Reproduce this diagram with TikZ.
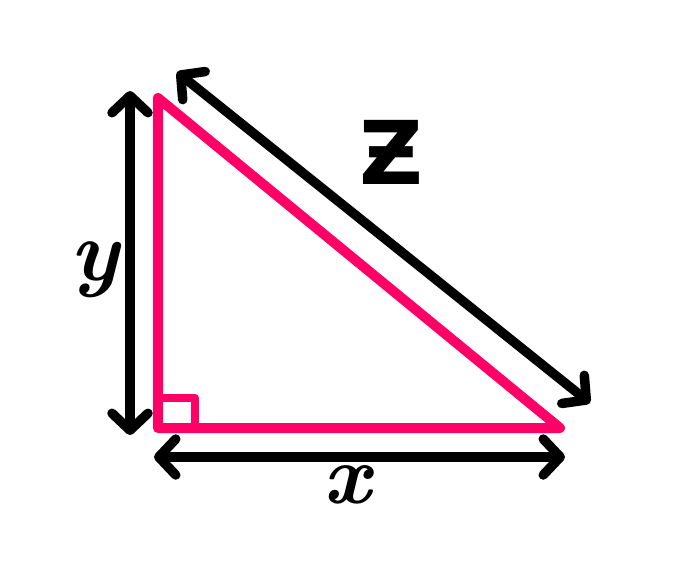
\documentclass[tikz,border=0pt]{standalone}
\usepackage{fontspec}
\newfontfamily\djv{DejaVu Sans}
\usetikzlibrary{arrows.meta}
\definecolor{tripink}{HTML}{FF0066}
\tikzset{
  measure/.style={line width=9.5pt, line cap=round, {Straight Barb[round,length=17pt,width=36pt,line width=9.5pt]}-{Straight Barb[round,length=17pt,width=36pt,line width=9.5pt]}},
  side/.style={draw=tripink, line width=10pt, line join=round, line cap=round},
  lbl/.style={inner sep=0pt, text=black}
}
\begin{document}
\begin{tikzpicture}[x=1pt,y=-1pt]
\useasboundingbox (0,0) rectangle (700,574);
% triangle
\coordinate (A) at (158,98);
\coordinate (B) at (158,428);
\coordinate (C) at (560,428);
\draw[side] (A) -- (B) -- (C) -- cycle;
\coordinate (Q1) at (158,398);
\coordinate (Q2) at (195,398);
\coordinate (Q3) at (195,428);
\draw[side, line width=8pt] (Q1) -- (Q2) -- (Q3);
% arrows
\coordinate (v1) at (130,91);
\coordinate (v2) at (130,435);
\draw[measure] (v1) -- (v2);
\coordinate (h1) at (154,457);
\coordinate (h2) at (565,457);
\draw[measure] (h1) -- (h2);
\coordinate (d1) at (177,72);
\coordinate (d2) at (590,403);
\draw[measure] (d1) -- (d2);
% labels
\node[lbl, font=\djv\bfseries\fontsize{88}{88}\selectfont] (lz) at (391,152) {Ƶ};
\node[lbl, font=\bfseries\itshape\fontsize{86}{86}\selectfont] (ly) at (95,270) {y};
\node[lbl, font=\bfseries\itshape\fontsize{84}{84}\selectfont] (lx) at (347,485) {x};
\end{tikzpicture}
\end{document}
